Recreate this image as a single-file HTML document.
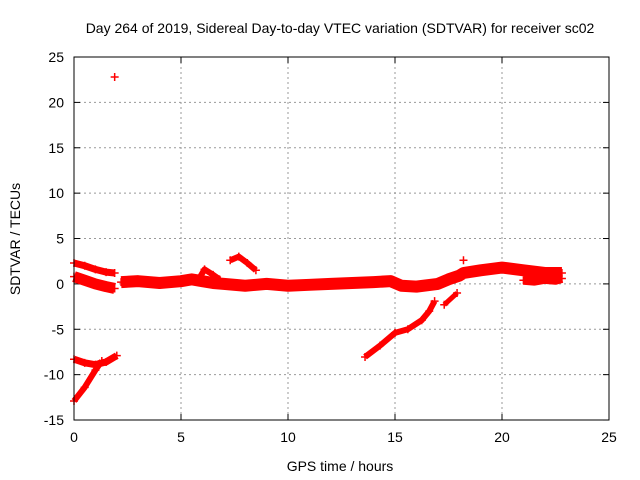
<!DOCTYPE html>
<html><head><meta charset="utf-8"><style>
body{margin:0;background:#fff}
svg{display:block;font-family:"Liberation Sans",sans-serif}
</style></head><body>
<svg id="c" width="640" height="480">
<text x="340" y="33" font-size="14" text-anchor="middle">Day 264 of 2019, Sidereal Day-to-day VTEC variation (SDTVAR) for receiver sc02</text>
<text x="340" y="471" font-size="14" text-anchor="middle">GPS time / hours</text>
<text x="20" y="239" font-size="14" text-anchor="middle" transform="rotate(-90 20 239)">SDTVAR / TECUs</text>
<g id="grid"></g>
<g id="marks"></g>
<rect x="74" y="57" width="535" height="363" fill="none" stroke="#000" stroke-width="1"/>
</svg>
<script>
const xTicks=[0,5,10,15,20,25];
const yTicks=[-15,-10,-5,0,5,10,15,20,25];
const segAh=[0,0.5,1,1.5,1.9];
const segAv=[2.3,2.0,1.6,1.3,1.2];
const segBh=[0,0.5,1,1.5,1.9];
const segBv=[0.8,0.4,0,-0.3,-0.5];
const mainH=[2.2,3,4,5,5.5,6,6.5,7,8,9,10,11,12,13,14,14.8,15.3,16,17,17.5,18,18.2,19,20,21,22,22.8];
const mainV=[0.2,0.3,0.1,0.3,0.5,0.3,0.1,0,-0.2,0,-0.2,-0.1,0,0.1,0.2,0.3,-0.2,-0.3,0,0.5,0.9,1.2,1.5,1.8,1.5,1.2,1.2];
const lowH=[21,21.5,22,22.5,22.8];
const lowV=[0.4,0.3,0.5,0.4,0.6];
const bump1H=[5.9,6.1,6.5,6.8];
const bump1V=[0.8,1.6,1.0,0.5];
const bump2H=[7.3,7.7,8.1,8.5];
const bump2V=[2.6,3.0,2.3,1.5];
const segCh=[0,0.5,1,1.5,2];
const segCv=[-8.3,-8.7,-8.9,-8.6,-7.9];
const segDh=[0,0.5,1,1.3];
const segDv=[-12.9,-11.4,-9.5,-8.5];
const segEh=[13.6,14.3,15,15.6,16.25,16.6,16.85];
const segEv=[-8.05,-6.8,-5.4,-5.0,-4.0,-3.0,-1.9];
const segFh=[17.3,17.9];
const segFv=[-2.3,-1.0];
const outH=[1.9,18.2];
const outV=[22.8,2.6];

const X=h=>74+h*21.4, Y=v=>283.9-v*9.075;
const NS='http://www.w3.org/2000/svg';
const grid=document.getElementById('grid'), marks=document.getElementById('marks'), svg=document.getElementById('c');
function mk(t,a,p){const e=document.createElementNS(NS,t);for(const k in a)e.setAttribute(k,a[k]);p.appendChild(e);return e;}
xTicks.forEach(t=>{
  if(t>0&&t<25){const g=mk('line',{x1:X(t),x2:X(t),y1:57,y2:420,stroke:'#999','stroke-dasharray':'2,3'},grid);
  
  }
  mk('line',{x1:X(t),x2:X(t),y1:420,y2:414,stroke:'#000'},grid);mk('line',{x1:X(t),x2:X(t),y1:57,y2:63,stroke:'#000'},grid);
  const l=mk('text',{x:X(t),y:442,'font-size':14,'text-anchor':'middle'},svg);l.textContent=t;
  
  
});
yTicks.forEach(t=>{
  if(t>-15&&t<25){const g=mk('line',{x1:74,x2:609,y1:Y(t),y2:Y(t),stroke:'#999','stroke-dasharray':'2,3'},grid);
  
  }
  mk('line',{x1:74,x2:80,y1:Y(t),y2:Y(t),stroke:'#000'},grid);mk('line',{x1:603,x2:609,y1:Y(t),y2:Y(t),stroke:'#000'},grid);
  const l=mk('text',{x:64,y:Y(t)+5,'font-size':14,'text-anchor':'end'},svg);l.textContent=t;
  
  
});
function series(hs,vs,w,name){
  if(hs.length>1){const p=mk('polyline',{points:hs.map((h,i)=>X(h)+','+Y(vs[i])).join(' '),fill:'none',stroke:'#f00','stroke-width':w,'stroke-linejoin':'round','stroke-linecap':'butt'},marks);
  
  }
  hs.forEach((h,i)=>{const x=X(h),y=Y(vs[i]);
    const m=mk('path',{d:`M${x-4},${y}H${x+4}M${x},${y-4}V${y+4}`,stroke:'#f00','stroke-width':1.5},marks);
    
    });
}
series(segAh,segAv,7,'upper-start-track');
series(segBh,segBv,11,'lower-start-band');
series(mainH,mainV,12,'main-band');
series(lowH,lowV,9,'late-lower-band');
series(bump1H,bump1V,6,'bump-6h');
series(bump2H,bump2V,6,'bump-8h');
series(segCh,segCv,7,'negative-track-start');
series(segDh,segDv,6,'rising-track-start');
series(segEh,segEv,6,'rising-track-14h');
series(segFh,segFv,5,'rising-track-17h');
series(outH,outV,0,'outliers');
</script>
</body></html>
